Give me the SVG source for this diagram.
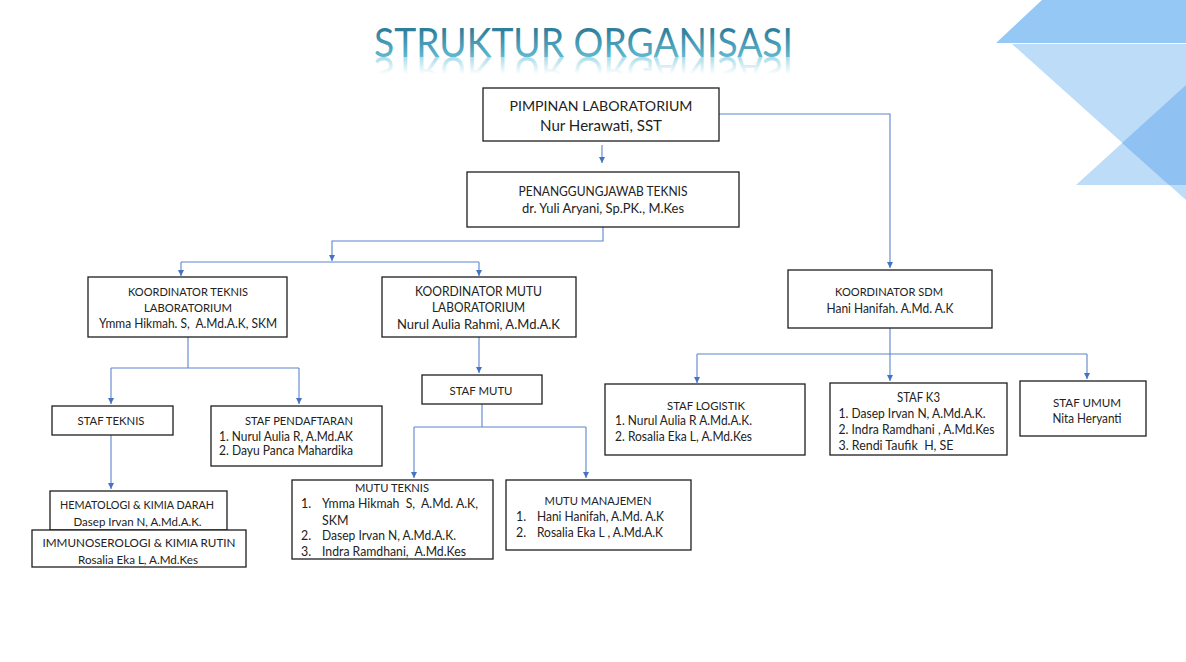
<svg xmlns="http://www.w3.org/2000/svg" width="1186" height="662" viewBox="0 0 1186 662">
<style>
.box{fill:#ffffff;stroke:#1e1e1e;stroke-width:1.3}
.t{font-family:Lato,"Open Sans","Liberation Sans",sans-serif;fill:#222222;font-size:12.4px}
.h{font-size:11.8px}
.c{text-anchor:middle}
.conn{fill:none;stroke:#5b84cc;stroke-width:1.1}
.arr{marker-end:url(#ah)}
</style>
<defs>
<marker id="ah" markerWidth="7" markerHeight="7" refX="6" refY="3" orient="auto" markerUnits="userSpaceOnUse">
<path d="M0,0 L6,3 L0,6 z" fill="#4472c4"/>
</marker>
<linearGradient id="tg" x1="0" y1="0" x2="0" y2="1">
<stop offset="0.25" stop-color="#2f7f9c"/>
<stop offset="0.85" stop-color="#62bcd4"/>
</linearGradient>
<linearGradient id="rg" x1="0" y1="0" x2="0" y2="1">
<stop offset="0.45" stop-color="#6cc3da" stop-opacity="0"/>
<stop offset="0.82" stop-color="#6cc3da" stop-opacity="0.6"/>
</linearGradient>
</defs>
<rect width="1186" height="662" fill="#ffffff"/>
<g id="decor">
<polygon points="1042,0 1186,0 1186,43 996,43" fill="#96c8f5"/>
<polygon points="1012,44 1186,44 1186,200" fill="#bddcf8"/>
<polygon points="1076,185 1186,85 1186,185" fill="#bddcf8"/>
<polygon points="1122,143 1186,85 1186,185 1169,185" fill="#8fc2f2"/>
</g>
<g id="title">
<text x="374" y="57" font-family="Lato,'Open Sans',sans-serif" font-size="40" textLength="419" lengthAdjust="spacingAndGlyphs" fill="url(#tg)">STRUKTUR ORGANISASI</text>
<text x="374" y="57" transform="matrix(1 0 0 -1 0 114)" font-family="Lato,'Open Sans',sans-serif" font-size="40" textLength="419" lengthAdjust="spacingAndGlyphs" fill="url(#rg)" aria-hidden="true">STRUKTUR ORGANISASI</text>
</g>
<g id="connectors">
<path class="conn arr" d="M602,145 V163"/>
<path class="conn arr" d="M719,114 H890 V268"/>
<path class="conn arr" d="M603,227 V241 H332 V261"/>
<path class="conn" d="M181,262 H479"/>
<path class="conn arr" d="M181,262 V276"/>
<path class="conn arr" d="M479,262 V276"/>
<path class="conn" d="M188,337 V368 M111,368 H299"/>
<path class="conn arr" d="M111,368 V404"/>
<path class="conn arr" d="M299,368 V404"/>
<path class="conn arr" d="M111,435 V489"/>
<path class="conn arr" d="M479,337 V373"/>
<path class="conn" d="M482,404 V427 M414,427 H586"/>
<path class="conn arr" d="M414,427 V478"/>
<path class="conn arr" d="M586,427 V478"/>
<path class="conn" d="M890,328 V354 M697,354 H1087"/>
<path class="conn arr" d="M697,354 V383"/>
<path class="conn arr" d="M890,354 V381"/>
<path class="conn arr" d="M1087,354 V379"/>
</g>
<g id="pimpinan">
<rect class="box" x="483" y="88" width="236" height="53"/>
<text class="t c" x="601" y="111" style="font-size:14px" textLength="183" lengthAdjust="spacingAndGlyphs">PIMPINAN LABORATORIUM</text>
<text class="t c" x="601" y="131" style="font-size:15px" textLength="122" lengthAdjust="spacingAndGlyphs">Nur Herawati, SST</text>
</g>
<g id="penanggungjawab">
<rect class="box" x="467" y="172" width="272" height="55"/>
<text class="t c" x="603" y="196" style="font-size:12.6px" textLength="169" lengthAdjust="spacingAndGlyphs">PENANGGUNGJAWAB TEKNIS</text>
<text class="t c" x="603" y="212.5" style="font-size:14px" textLength="162" lengthAdjust="spacingAndGlyphs">dr. Yuli Aryani, Sp.PK., M.Kes</text>
</g>
<g id="koord-teknis">
<rect class="box" x="88" y="277" width="199" height="60"/>
<text class="t h c" x="188" y="296" textLength="120" lengthAdjust="spacingAndGlyphs">KOORDINATOR TEKNIS</text>
<text class="t h c" x="188" y="312" textLength="88" lengthAdjust="spacingAndGlyphs">LABORATORIUM</text>
<text class="t c" x="188" y="327.5" xml:space="preserve" textLength="178" lengthAdjust="spacingAndGlyphs">Ymma Hikmah. S,  A.Md.A.K, SKM</text>
</g>
<g id="koord-mutu">
<rect class="box" x="382" y="277" width="194" height="60"/>
<text class="t c" x="478.5" y="295.5" style="font-size:12.8px" textLength="127" lengthAdjust="spacingAndGlyphs">KOORDINATOR MUTU</text>
<text class="t c" x="478.5" y="311.8" style="font-size:12.8px" textLength="93" lengthAdjust="spacingAndGlyphs">LABORATORIUM</text>
<text class="t c" x="478.5" y="328.5" style="font-size:13.4px" textLength="163" lengthAdjust="spacingAndGlyphs">Nurul Aulia Rahmi, A.Md.A.K</text>
</g>
<g id="koord-sdm">
<rect class="box" x="788" y="270" width="204" height="58"/>
<text class="t h c" x="889" y="296" textLength="108" lengthAdjust="spacingAndGlyphs">KOORDINATOR SDM</text>
<text class="t c" x="890" y="312.5" textLength="127" lengthAdjust="spacingAndGlyphs">Hani Hanifah. A.Md. A.K</text>
</g>
<g id="staf-teknis">
<rect class="box" x="52" y="406" width="121" height="29"/>
<text class="t h c" x="111" y="424.5" textLength="67" lengthAdjust="spacingAndGlyphs">STAF TEKNIS</text>
</g>
<g id="staf-pendaftaran">
<rect class="box" x="211" y="406" width="171" height="60"/>
<text class="t h c" x="299" y="424.5" textLength="108" lengthAdjust="spacingAndGlyphs">STAF PENDAFTARAN</text>
<text class="t" x="219" y="441" textLength="134" lengthAdjust="spacingAndGlyphs">1. Nurul Aulia R, A.Md.AK</text>
<text class="t" x="219" y="455" textLength="134" lengthAdjust="spacingAndGlyphs">2. Dayu Panca Mahardika</text>
</g>
<g id="hematologi">
<rect class="box" x="50" y="491" width="177" height="39"/>
<text class="t h c" x="137" y="509" textLength="154" lengthAdjust="spacingAndGlyphs">HEMATOLOGI &amp; KIMIA DARAH</text>
<text class="t c" x="137.5" y="526" style="font-size:12px" textLength="128" lengthAdjust="spacingAndGlyphs">Dasep Irvan N, A.Md.A.K.</text>
</g>
<g id="immunoserologi">
<rect class="box" x="32" y="530" width="214" height="37"/>
<text class="t h c" x="139" y="547" textLength="193" lengthAdjust="spacingAndGlyphs">IMMUNOSEROLOGI &amp; KIMIA RUTIN</text>
<text class="t c" x="138" y="563.5" style="font-size:12px" textLength="120" lengthAdjust="spacingAndGlyphs">Rosalia Eka L, A.Md.Kes</text>
</g>
<g id="staf-mutu">
<rect class="box" x="422" y="375" width="120" height="29"/>
<text class="t h c" x="481" y="394.5" textLength="63" lengthAdjust="spacingAndGlyphs">STAF MUTU</text>
</g>
<g id="mutu-teknis">
<rect class="box" x="292" y="480" width="201" height="79"/>
<text class="t h c" x="392" y="491.5" textLength="74" lengthAdjust="spacingAndGlyphs">MUTU TEKNIS</text>
<text class="t" x="301" y="508">1.</text>
<text class="t" x="322" y="508" xml:space="preserve" textLength="156" lengthAdjust="spacingAndGlyphs">Ymma Hikmah  S,  A.Md. A.K,</text>
<text class="t" x="322" y="524.5">SKM</text>
<text class="t" x="301" y="540">2.</text>
<text class="t" x="322" y="540" textLength="134" lengthAdjust="spacingAndGlyphs">Dasep Irvan N, A.Md.A.K.</text>
<text class="t" x="301" y="555.5">3.</text>
<text class="t" x="322" y="555.5" xml:space="preserve" textLength="144" lengthAdjust="spacingAndGlyphs">Indra Ramdhani,  A.Md.Kes</text>
</g>
<g id="mutu-manajemen">
<rect class="box" x="506" y="480" width="185" height="70"/>
<text class="t h c" x="598" y="504.5" textLength="107" lengthAdjust="spacingAndGlyphs">MUTU MANAJEMEN</text>
<text class="t" x="516" y="521">1.</text>
<text class="t" x="537" y="521" textLength="127" lengthAdjust="spacingAndGlyphs">Hani Hanifah, A.Md. A.K</text>
<text class="t" x="516" y="536.5">2.</text>
<text class="t" x="537" y="536.5" textLength="126" lengthAdjust="spacingAndGlyphs">Rosalia Eka L , A.Md.A.K</text>
</g>
<g id="staf-logistik">
<rect class="box" x="605" y="384" width="200" height="71"/>
<text class="t h c" x="706" y="409.5" textLength="78" lengthAdjust="spacingAndGlyphs">STAF LOGISTIK</text>
<text class="t" x="615" y="425" textLength="137" lengthAdjust="spacingAndGlyphs">1. Nurul Aulia R A.Md.A.K.</text>
<text class="t" x="615" y="441" textLength="137" lengthAdjust="spacingAndGlyphs">2. Rosalia Eka L, A.Md.Kes</text>
</g>
<g id="staf-k3">
<rect class="box" x="830" y="383" width="177" height="72"/>
<text class="t c" x="918.5" y="401.5" textLength="43" lengthAdjust="spacingAndGlyphs">STAF K3</text>
<text class="t" x="838.5" y="418" textLength="147" lengthAdjust="spacingAndGlyphs">1. Dasep Irvan N, A.Md.A.K.</text>
<text class="t" x="838.5" y="434" textLength="156" lengthAdjust="spacingAndGlyphs">2. Indra Ramdhani , A.Md.Kes</text>
<text class="t" x="838.5" y="450" xml:space="preserve" textLength="115" lengthAdjust="spacingAndGlyphs">3. Rendi Taufik  H, SE</text>
</g>
<g id="staf-umum">
<rect class="box" x="1020" y="381" width="126" height="55"/>
<text class="t h c" x="1087" y="406.5" textLength="68" lengthAdjust="spacingAndGlyphs">STAF UMUM</text>
<text class="t c" x="1087" y="422.5" textLength="69" lengthAdjust="spacingAndGlyphs">Nita Heryanti</text>
</g>
</svg>
